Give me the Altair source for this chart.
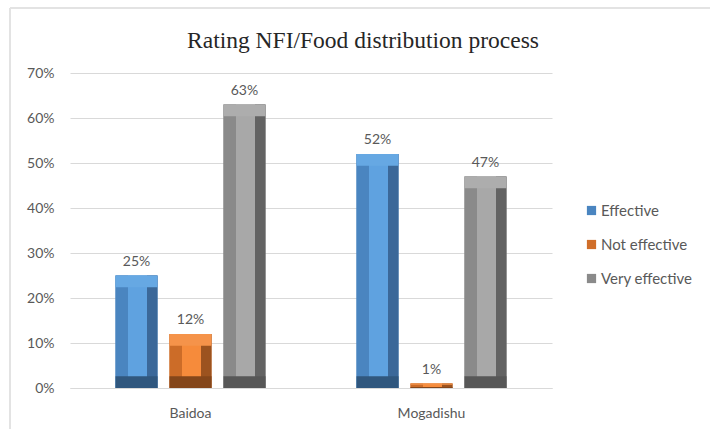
import altair as alt
import pandas as pd

# Survey results by site
sites = ["Baidoa", "Mogadishu"]
series = ["Effective", "Not effective", "Very effective"]
effective = [0.25, 0.52]
not_effective = [0.12, 0.01]
very_effective = [0.63, 0.47]
y_ticks = [0, 0.1, 0.2, 0.3, 0.4, 0.5, 0.6, 0.7]

rows = []
for i, site in enumerate(sites):
    for name, vals in zip(series, [effective, not_effective, very_effective]):
        rows.append({"site": site, "series": name, "value": vals[i]})
df = pd.DataFrame(rows)

# bevel shades per series: left side, front face, right side, top, bottom
shades = {
    "Effective": dict(left="#4A85C0", face="#5FA2E0", right="#3B6899", top="#66A8E3", bottom="#30577E"),
    "Not effective": dict(left="#CC6C28", face="#F68B3B", right="#9C531F", top="#F5934A", bottom="#84461A"),
    "Very effective": dict(left="#8A8A8A", face="#A8A8A8", right="#636363", top="#ADADAD", bottom="#575757"),
}
legend_colors = ["#4A85C0", "#D06E29", "#8A8A8A"]

FONT = "Lato"
GRID = "#D9D9D9"
TEXT = "#595959"

x_enc = alt.X(
    "site:N",
    sort=sites,
    scale=alt.Scale(paddingInner=0, paddingOuter=0),
    axis=alt.Axis(
        title=None, labelAngle=0, ticks=False, domainColor=GRID, domainWidth=1,
        labelFont=FONT, labelFontSize=14, labelColor=TEXT, labelPadding=18, grid=False,
    ),
)
xo_enc = alt.XOffset(
    "series:N", sort=series,
    scale=alt.Scale(paddingInner=0.222, paddingOuter=0.843),
)
y_axis = alt.Axis(
    title=None, values=y_ticks, format=".0%", domain=False, ticks=False,
    gridColor=GRID, gridWidth=1, labelFont=FONT, labelFontSize=14,
    labelColor=TEXT, labelPadding=16,
)
y_scale = alt.Scale(domain=[0, 0.7], nice=False)

base = alt.Chart(df).encode(x=x_enc, xOffset=xo_enc).transform_calculate(
    bev="min(0.026, datum.value * 0.25)",
    zero="0",
    topstart="datum.value - min(0.026, datum.value * 0.25)",
)

bars = base.mark_bar().encode(
    y=alt.Y("value:Q", scale=y_scale, axis=y_axis),
    color=alt.Color(
        "series:N", sort=series,
        scale=alt.Scale(domain=series, range=legend_colors),
        legend=alt.Legend(
            title=None, orient="none", legendX=514, legendY=130,
            symbolType="square", symbolSize=85, symbolStrokeWidth=0,
            labelFont=FONT, labelFontSize=15, labelColor=TEXT,
            rowPadding=18, labelOffset=2,
        ),
    ),
)

layers = [bars]
for name in series:
    s = shades[name]
    grad = alt.LinearGradient(
        gradient="linear", x1=0, y1=0, x2=1, y2=0,
        stops=[
            alt.GradientStop(offset=0, color=s["left"]),
            alt.GradientStop(offset=0.29, color=s["left"]),
            alt.GradientStop(offset=0.29, color=s["face"]),
            alt.GradientStop(offset=0.75, color=s["face"]),
            alt.GradientStop(offset=0.75, color=s["right"]),
            alt.GradientStop(offset=1, color=s["right"]),
        ],
    )
    sub = base.transform_filter(alt.datum.series == name)
    face = sub.mark_bar(color=grad).encode(
        y=alt.Y("value:Q", scale=y_scale, axis=y_axis)
    )
    top = sub.mark_bar(color=s["top"]).encode(
        y=alt.Y("value:Q", scale=y_scale, axis=y_axis), y2="topstart:Q"
    )
    bottom = sub.mark_bar(color=s["bottom"]).encode(
        y=alt.Y("bev:Q", scale=y_scale, axis=y_axis), y2="zero:Q"
    )
    layers += [face, top, bottom]

labels = base.mark_text(
    baseline="bottom", dy=-7, font=FONT, fontSize=14, color=TEXT
).encode(
    y=alt.Y("value:Q", scale=y_scale, axis=y_axis),
    text=alt.Text("value:Q", format=".0%"),
)
layers.append(labels)

# thin frame along the top and left edges of the chart
frame_df = pd.DataFrame({"k": [0]})
frame_top = alt.Chart(frame_df).mark_rule(color="#E3E3E3", strokeWidth=2).encode(
    x=alt.value(-60), x2=alt.value(640), y=alt.value(-65)
)
frame_left = alt.Chart(frame_df).mark_rule(color="#E3E3E3", strokeWidth=2).encode(
    x=alt.value(-60), y=alt.value(-65), y2=alt.value(356)
)
layers += [frame_top, frame_left]

chart = alt.layer(*layers).properties(
    width=482,
    height=315,
    padding={"left": 70, "top": 73, "right": 158, "bottom": 41},
    autosize=alt.AutoSizeParams(type="none"),
    title=alt.TitleParams(
        "Rating NFI/Food distribution process",
        font="Liberation Serif", fontSize=23.5, fontWeight="normal",
        color="#262626", anchor="middle", frame="group", dx=52, offset=-45,
    ),
).configure_view(stroke=None)

chart.save("out.html", embed_options={"renderer": "svg", "actions": False})
